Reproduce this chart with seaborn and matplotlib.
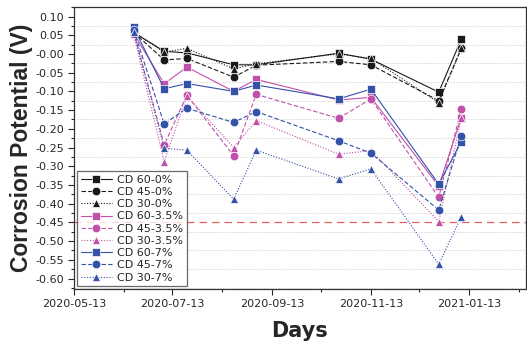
import pandas as pd
import numpy as np
import matplotlib
matplotlib.use('Agg')
import matplotlib.pyplot as plt
import matplotlib.dates as mdates
from matplotlib.ticker import MultipleLocator, FormatStrFormatter
import seaborn as sns

dates = ['2020-06-19', '2020-07-08', '2020-07-22', '2020-08-20', '2020-09-03',
         '2020-10-24', '2020-11-13', '2020-12-25', '2021-01-08']

cd60_0 = [0.058, 0.007, 0.003, -0.029, -0.029, 0.002, -0.014, -0.102, 0.040]
cd45_0 = [0.058, -0.016, -0.012, -0.062, -0.030, -0.020, -0.029, -0.125, 0.015]
cd30_0 = [0.058, 0.005, 0.015, -0.040, -0.026, 0.000, -0.012, -0.130, 0.015]
cd60_35 = [0.055, -0.080, -0.035, -0.100, -0.068, -0.123, -0.116, -0.353, -0.170]
cd45_35 = [0.060, -0.243, -0.110, -0.272, -0.108, -0.172, -0.120, -0.383, -0.148]
cd30_35 = [0.053, -0.288, -0.112, -0.250, -0.178, -0.268, -0.258, -0.448, -0.170]
cd60_7 = [0.071, -0.093, -0.079, -0.100, -0.083, -0.120, -0.094, -0.348, -0.234]
cd45_7 = [0.065, -0.187, -0.145, -0.183, -0.154, -0.232, -0.265, -0.417, -0.218]
cd30_7 = [0.060, -0.252, -0.257, -0.388, -0.257, -0.334, -0.307, -0.562, -0.435]

labels = ['CD 60-0%', 'CD 45-0%', 'CD 30-0%', 'CD 60-3.5%', 'CD 45-3.5%',
          'CD 30-3.5%', 'CD 60-7%', 'CD 45-7%', 'CD 30-7%']
series = [cd60_0, cd45_0, cd30_0, cd60_35, cd45_35, cd30_35, cd60_7, cd45_7, cd30_7]
threshold = -0.45

rows = []
for lab, vals in zip(labels, series):
    for d, v in zip(dates, vals):
        rows.append({'date': pd.Timestamp(d), 'potential': v, 'series': lab})
df = pd.DataFrame(rows)

black, pink, blue = '#1a1a1a', '#c050aa', '#3352a8'
palette = dict(zip(labels, [black] * 3 + [pink] * 3 + [blue] * 3))
markers = dict(zip(labels, ['s', 'o', '^'] * 3))
dashes = dict(zip(labels, ['', (4, 2), (1, 1.5)] * 3))

sns.set_theme(style='ticks')
plt.rcParams['font.family'] = ['DejaVu Sans']

fig = plt.figure(figsize=(5.27, 3.42), dpi=100)
ax = fig.add_axes([0.140, 0.155, 0.858, 0.824])

sns.lineplot(data=df, x='date', y='potential', hue='series', style='series',
             palette=palette, markers=markers, dashes=dashes, linewidth=0.8,
             markersize=6.2, markeredgewidth=0.5, ax=ax, legend='full')

ax.axhline(threshold, color='#e06060', lw=0.9, ls=(0, (6, 4)), zorder=1)

ax.set_xlim(pd.Timestamp('2020-05-13'), pd.Timestamp('2021-02-17'))
ax.set_ylim(-0.628, 0.125)
ax.set_xticks([pd.Timestamp(d) for d in ['2020-05-13', '2020-07-13', '2020-09-13',
                                          '2020-11-13', '2021-01-13']])
ax.set_xticks([pd.Timestamp(d) for d in ['2020-06-13', '2020-08-13', '2020-10-13',
                                          '2020-12-13', '2021-02-13']], minor=True)
ax.xaxis.set_major_formatter(mdates.DateFormatter('%Y-%m-%d'))
ax.yaxis.set_major_locator(MultipleLocator(0.05))
ax.yaxis.set_minor_locator(MultipleLocator(0.025))
ax.yaxis.set_major_formatter(FormatStrFormatter('%.2f'))
for y in np.arange(-0.625, 0.125, 0.05):
    ax.axhline(y, color='#c8c8c8', lw=0.6, ls=(0, (1.5, 2)), zorder=0)

ax.tick_params(axis='both', which='major', labelsize=8, length=4, width=0.8,
               direction='out', pad=3)
ax.tick_params(axis='both', which='minor', length=2.5, width=0.8, direction='out')
for s in ax.spines.values():
    s.set_color('#333333')
    s.set_linewidth(0.9)

ax.set_xlabel('Days', fontsize=15, fontweight='bold', labelpad=9)
ax.set_ylabel('Corrosion Potential (V)', fontsize=16.5, fontweight='bold',
              family=['Liberation Sans', 'DejaVu Sans'], labelpad=2)

leg = ax.legend(loc='lower left', bbox_to_anchor=(0.003, 0.003), fontsize=8,
                frameon=True, fancybox=False, edgecolor='#444444',
                labelspacing=0.2, handlelength=2.8, handletextpad=0.5,
                borderpad=0.3, borderaxespad=0.2)
leg.get_frame().set_linewidth(0.9)

fig.savefig('out.png', dpi=100)
